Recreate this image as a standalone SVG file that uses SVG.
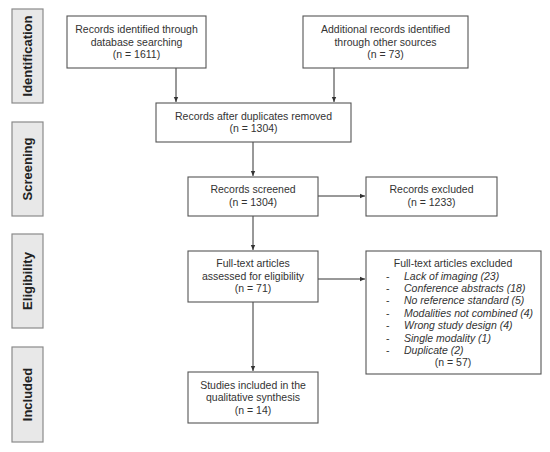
<svg xmlns="http://www.w3.org/2000/svg" width="550" height="452" viewBox="0 0 550 452">
<defs>
<marker id="ah" markerWidth="6" markerHeight="6" refX="5" refY="3" orient="auto" markerUnits="userSpaceOnUse">
<path d="M0,0.8 L5,3 L0,5.2 z" fill="#333"/>
</marker>
<style>
.side{fill:#e8e8e8;stroke:#8a8a8a;stroke-width:1.2}
.sl{font-family:"Liberation Sans",Arial,sans-serif;font-weight:bold;font-size:13px;fill:#222;text-anchor:middle;dominant-baseline:central}
.box{fill:#fff;stroke:#555;stroke-width:1.1}
.t{font-family:"Liberation Sans",Arial,sans-serif;font-size:10.5px;fill:#333;text-anchor:middle}
.li{font-family:"Liberation Sans",Arial,sans-serif;font-size:10.5px;fill:#333;font-style:italic}
.dash{font-family:"Liberation Sans",Arial,sans-serif;font-size:10.5px;fill:#333}
.c{fill:none;stroke:#333;stroke-width:1}
</style>
</defs>
<rect width="550" height="452" fill="#fff"/>
<g id="side-identification"><rect class="side" x="12" y="9" width="31" height="94"/><text class="sl" transform="translate(27.5,56) rotate(-90)">Identification</text></g>
<g id="side-screening"><rect class="side" x="12" y="122" width="31" height="94"/><text class="sl" transform="translate(27.5,169) rotate(-90)">Screening</text></g>
<g id="side-eligibility"><rect class="side" x="12" y="234" width="31" height="94"/><text class="sl" transform="translate(27.5,281) rotate(-90)">Eligibility</text></g>
<g id="side-included"><rect class="side" x="12" y="347" width="31" height="95"/><text class="sl" transform="translate(27.5,394.5) rotate(-90)">Included</text></g>

<g id="connectors">
<path class="c" d="M176,68 V102" marker-end="url(#ah)"/>
<path class="c" d="M334,68 V102" marker-end="url(#ah)"/>
<path class="c" d="M253,142 V176" marker-end="url(#ah)"/>
<path class="c" d="M318,196 H365" marker-end="url(#ah)"/>
<path class="c" d="M253,216 V250" marker-end="url(#ah)"/>
<path class="c" d="M318,279 H365" marker-end="url(#ah)"/>
<path class="c" d="M253,302 V371" marker-end="url(#ah)"/>
</g>

<g id="n1"><rect class="box" x="67" y="16" width="139" height="52"/>
<text class="t" x="136.5" y="33">Records identified through</text>
<text class="t" x="136.5" y="46">database searching</text>
<text class="t" x="136.5" y="58">(n = 1611)</text></g>

<g id="n2"><rect class="box" x="303" y="16" width="165" height="52"/>
<text class="t" x="385.5" y="33">Additional records identified</text>
<text class="t" x="385.5" y="46">through other sources</text>
<text class="t" x="385.5" y="58">(n = 73)</text></g>

<g id="n3"><rect class="box" x="156" y="103" width="195" height="39"/>
<text class="t" x="253.5" y="119.5">Records after duplicates removed</text>
<text class="t" x="253.5" y="132">(n = 1304)</text></g>

<g id="n4"><rect class="box" x="188" y="177" width="130" height="39"/>
<text class="t" x="253" y="193">Records screened</text>
<text class="t" x="253" y="205.5">(n = 1304)</text></g>

<g id="n5"><rect class="box" x="366" y="177" width="131" height="39"/>
<text class="t" x="431.5" y="193">Records excluded</text>
<text class="t" x="431.5" y="205.5">(n = 1233)</text></g>

<g id="n6"><rect class="box" x="188" y="251" width="130" height="51"/>
<text class="t" x="253" y="267">Full-text articles</text>
<text class="t" x="253" y="279.5">assessed for eligibility</text>
<text class="t" x="253" y="292">(n = 71)</text></g>

<g id="n7"><rect class="box" x="366" y="251" width="175" height="123"/>
<text class="t" x="453" y="267">Full-text articles excluded</text>
<text class="dash" x="386" y="279.5">-</text><text class="li" x="404" y="279.5">Lack of imaging (23)</text>
<text class="dash" x="386" y="291.9">-</text><text class="li" x="404" y="291.9">Conference abstracts (18)</text>
<text class="dash" x="386" y="304.3">-</text><text class="li" x="404" y="304.3">No reference standard (5)</text>
<text class="dash" x="386" y="316.7">-</text><text class="li" x="404" y="316.7">Modalities not combined (4)</text>
<text class="dash" x="386" y="329.1">-</text><text class="li" x="404" y="329.1">Wrong study design (4)</text>
<text class="dash" x="386" y="341.5">-</text><text class="li" x="404" y="341.5">Single modality (1)</text>
<text class="dash" x="386" y="353.9">-</text><text class="li" x="404" y="353.9">Duplicate (2)</text>
<text class="t" x="453" y="366">(n = 57)</text></g>

<g id="n8"><rect class="box" x="188" y="372" width="130" height="51"/>
<text class="t" x="253" y="388.5">Studies included in the</text>
<text class="t" x="253" y="401">qualitative synthesis</text>
<text class="t" x="253" y="413.5">(n = 14)</text></g>
</svg>
